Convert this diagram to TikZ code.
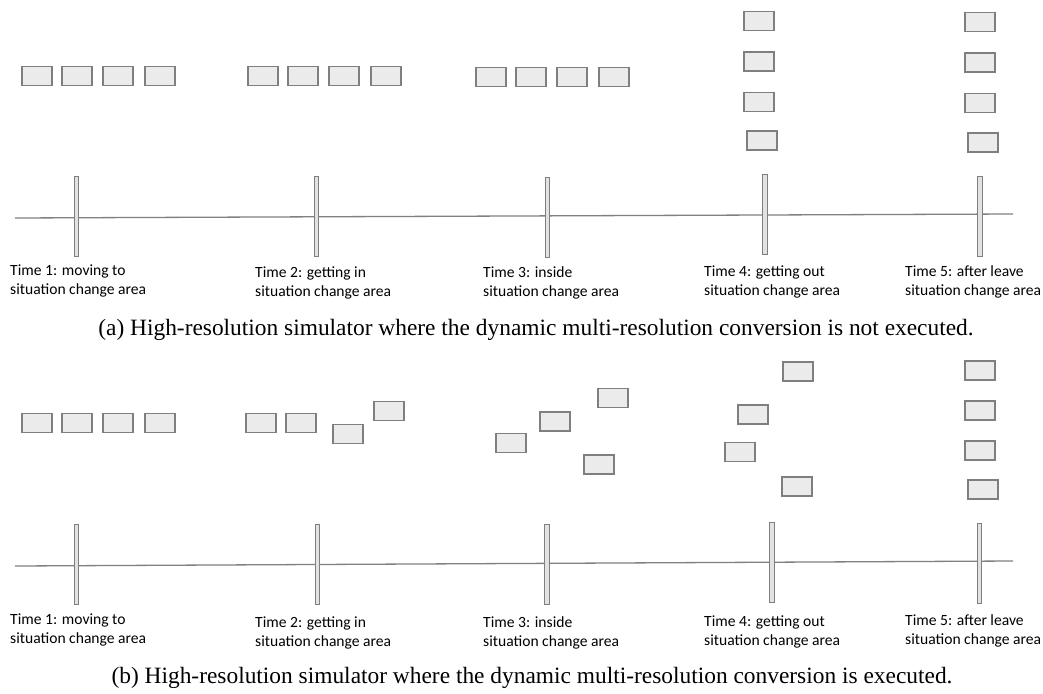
\documentclass[tikz,border=0pt]{standalone}
\usepackage{fontspec}
\setmainfont{Liberation Serif}
\newfontfamily\lblfont{Carlito}
\definecolor{boxfill}{HTML}{EBEBEB}
\definecolor{boxline}{HTML}{7F7F7F}
\definecolor{axisline}{HTML}{808080}
\definecolor{tickfill}{HTML}{E2E2E2}
\tikzset{
  car/.style={rectangle, draw=boxline, fill=boxfill, line width=1.2pt, minimum width=30pt, minimum height=19pt, inner sep=0pt},
  tickbar/.style={rectangle, draw=boxline, fill=tickfill, line width=1pt, minimum width=4.8pt, minimum height=80pt, inner sep=0pt},
  axis/.style={draw=axisline, line width=1.3pt},
  lbl/.style={font=\lblfont\fontsize{15.6}{19}\selectfont, align=left, anchor=north west, inner sep=0pt, text=black},
  captext/.style={font=\fontsize{23.4}{27}\selectfont, inner sep=0pt, text=black}
}
\begin{document}
\begin{tikzpicture}[x=1pt,y=-1pt]
\useasboundingbox (0,0) rectangle (1043,693);
% ---------- panel (a) ----------
\coordinate (La) at (15,218);
\coordinate (Ra) at (1013,214);
\draw[axis] (La) -- (Ra);
\node[tickbar] (ta1) at (76.5,216) {};
\node[tickbar] (ta2) at (316.5,216.5) {};
\node[tickbar] (ta3) at (547.5,217) {};
\node[tickbar] (ta4) at (765,214) {};
\node[tickbar] (ta5) at (980,216) {};
% cars time 1
\node[car] (a11) at (37,76) {};
\node[car] (a12) at (77,76) {};
\node[car] (a13) at (118,76) {};
\node[car] (a14) at (160,76) {};
% time 2
\node[car] (a21) at (263,76) {};
\node[car] (a22) at (303,76) {};
\node[car] (a23) at (344,76) {};
\node[car] (a24) at (386,76) {};
% time 3
\node[car] (a31) at (491,77) {};
\node[car] (a32) at (531,77) {};
\node[car] (a33) at (572,77) {};
\node[car] (a34) at (614,77) {};
% time 4
\node[car] (a41) at (759,21) {};
\node[car] (a42) at (759,61.5) {};
\node[car] (a43) at (759,102) {};
\node[car] (a44) at (762,140.5) {};
% time 5
\node[car] (a51) at (980,22) {};
\node[car] (a52) at (980,62.5) {};
\node[car] (a53) at (980,103) {};
\node[car] (a54) at (983,142.5) {};
% labels
\node[lbl] (la1) at (10,261.7) {\strut Time 1: moving to\\situation change area};
\node[lbl] (la2) at (255,263.7) {\strut Time 2: getting in\\situation change area};
\node[lbl] (la3) at (483,263.7) {\strut Time 3: inside\\situation change area};
\node[lbl] (la4) at (704,262.7) {\strut Time 4: getting out\\situation change area};
\node[lbl] (la5) at (905,262.7) {\strut Time 5: after leave\\situation change area};
\node[captext] (capa) at (536,330) {(a) High-resolution simulator where the dynamic multi-resolution conversion is not executed.};
% ---------- panel (b) ----------
\coordinate (Lb) at (15,566);
\coordinate (Rb) at (1013,561);
\draw[axis] (Lb) -- (Rb);
\node[tickbar] (tb1) at (76.5,564) {};
\node[tickbar] (tb2) at (317.5,564) {};
\node[tickbar] (tb3) at (547,564.5) {};
\node[tickbar] (tb4) at (772,562) {};
\node[tickbar] (tb5) at (979.5,563.5) {};
% time 1
\node[car] (b11) at (37,423) {};
\node[car] (b12) at (77,423) {};
\node[car] (b13) at (118,423) {};
\node[car] (b14) at (160,423) {};
% time 2
\node[car] (b21) at (261,423) {};
\node[car] (b22) at (301,423) {};
\node[car] (b23) at (348,434) {};
\node[car] (b24) at (389,411) {};
% time 3
\node[car] (b31) at (511,443) {};
\node[car] (b32) at (555,421.5) {};
\node[car] (b33) at (613,398) {};
\node[car] (b34) at (599,464.5) {};
% time 4
\node[car] (b41) at (798,371.5) {};
\node[car] (b42) at (753,414.5) {};
\node[car] (b43) at (740,452) {};
\node[car] (b44) at (797,486.5) {};
% time 5
\node[car] (b51) at (980,370.5) {};
\node[car] (b52) at (980,410.5) {};
\node[car] (b53) at (980,450.5) {};
\node[car] (b54) at (983,489.5) {};
% labels
\node[lbl] (lb1) at (10,610.7) {\strut Time 1: moving to\\situation change area};
\node[lbl] (lb2) at (255,613.7) {\strut Time 2: getting in\\situation change area};
\node[lbl] (lb3) at (483,613.7) {\strut Time 3: inside\\situation change area};
\node[lbl] (lb4) at (704,612.7) {\strut Time 4: getting out\\situation change area};
\node[lbl] (lb5) at (905,611.7) {\strut Time 5: after leave\\situation change area};
\node[captext] (capb) at (532,678) {(b) High-resolution simulator where the dynamic multi-resolution conversion is executed.};
\end{tikzpicture}
\end{document}
